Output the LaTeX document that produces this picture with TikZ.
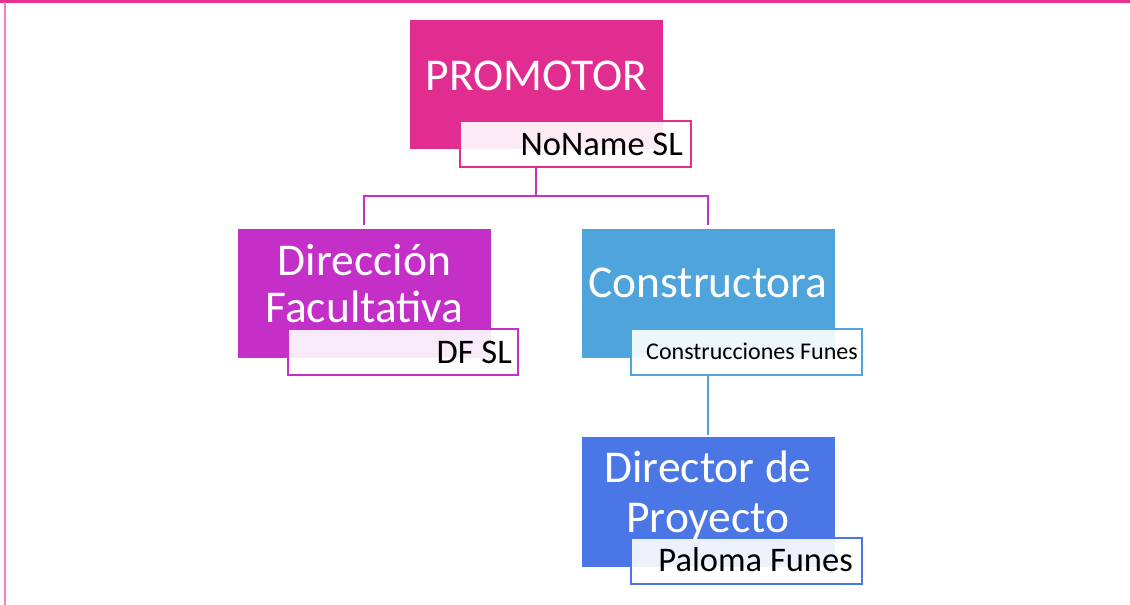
\documentclass[tikz,border=0pt]{standalone}
\usepackage{fontspec}
\setmainfont{Carlito}
\definecolor{promC}{HTML}{E22D90}
\definecolor{dfC}{HTML}{C42FC8}
\definecolor{conC}{HTML}{4FA5DB}
\definecolor{dirC}{HTML}{4A76E6}
\definecolor{bandC}{HTML}{E8308F}
\definecolor{sideC}{HTML}{F283BE}
\definecolor{lineP}{HTML}{C62FC8}
\tikzset{
  orgbox/.style={rectangle, inner sep=0pt, minimum width=253pt, minimum height=129pt, fill=#1, draw=none},
  tagbox/.style={rectangle, inner sep=0pt, minimum width=231pt, minimum height=46pt, draw=#1, line width=2pt, fill=white, fill opacity=0.9},
  bigtxt/.style={text=white, font=\fontsize{45.5}{50}\selectfont, align=center, inner sep=0pt, anchor=base},
  tagtxt/.style={text=black, font=\fontsize{34.5}{38}\selectfont, inner sep=0pt, anchor=base east},
  smalltxt/.style={text=black, font=\fontsize{24}{28}\selectfont, inner sep=0pt, anchor=base east},
  link/.style={line width=2pt, draw=#1}
}
\begin{document}
\begin{tikzpicture}[x=1pt,y=-1pt]
\useasboundingbox (0,0) rectangle (1130,605);
\fill[bandC] (0,0) rectangle (1130,3);
\fill[sideC] (4,2) rectangle (6,605);

% boxes
\node[orgbox=promC] (prom) at (536.5,84.5) {};
\node[orgbox=dfC] (df) at (364.5,293.5) {};
\node[orgbox=conC] (con) at (708,293.5) {};
\node[orgbox=dirC, minimum height=130pt] (dir) at (708,502) {};

% connectors
\draw[link=lineP] (536,166) coordinate (ps) -- (536,196) coordinate (pm);
\draw[link=lineP] (364,225) coordinate (dft) |- (pm) -| (708,225) coordinate (cnt);
\draw[link=conC] (707.5,375) coordinate (cs) -- (707.5,435) coordinate (dt);

% tags
\node[tagbox=promC] (promtag) at (575,143.5) {};
\node[tagbox=dfC, minimum width=230pt] (dftag) at (403,352) {};
\node[tagbox=conC] (contag) at (746.5,352) {};
\node[tagbox=dirC] (dirtag) at (746.5,561) {};

% texts
\node[bigtxt] (promtxt) at (536.5,90) {PROMOTOR};
\node[bigtxt] (dftxt1) at (364.5,275) {Dirección};
\node[bigtxt] (dftxt2) at (364.5,322) {Facultativa};
\node[bigtxt] (contxt) at (708,297) {Constructora};
\node[bigtxt] (dirtxt1) at (708,482) {Director de};
\node[bigtxt] (dirtxt2) at (708,532) {Proyecto};

\node[tagtxt] (promname) at (683,155) {NoName SL};
\node[tagtxt] (dfname) at (512,363) {DF SL};
\node[smalltxt] (conname) at (858,359) {Construcciones Funes};
\node[tagtxt] (dirname) at (853,571) {Paloma Funes};
\end{tikzpicture}
\end{document}
